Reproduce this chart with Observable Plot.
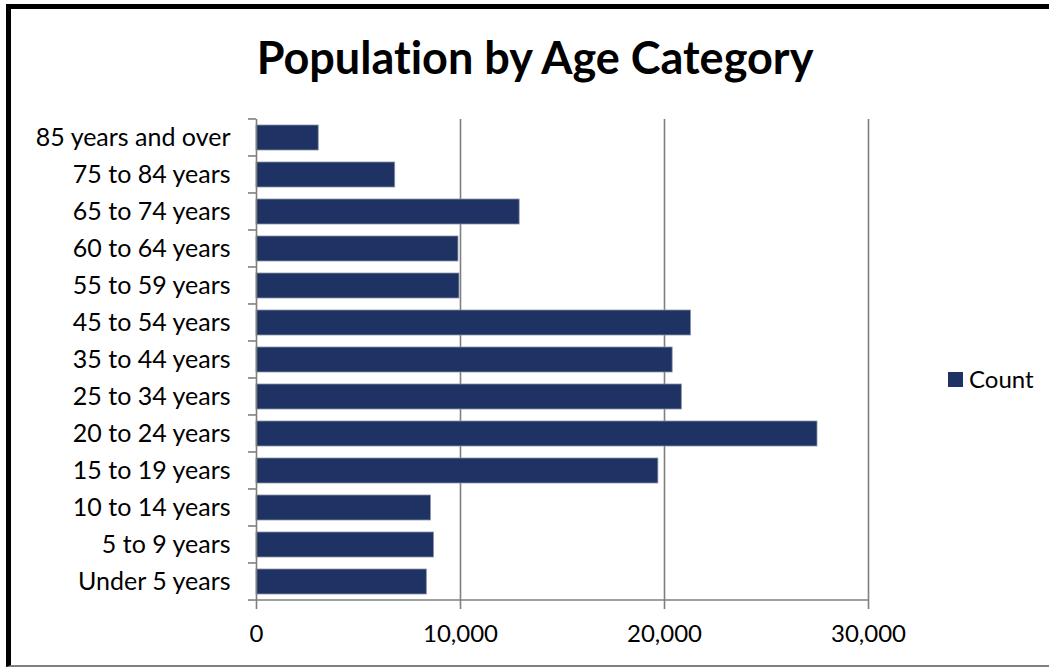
<!DOCTYPE html>
<html>
<head>
<meta charset="utf-8">
<script src="https://cdn.jsdelivr.net/npm/d3@7"></script>
<script src="https://cdn.jsdelivr.net/npm/@observablehq/plot@0.6"></script>
<style>
  html, body { margin: 0; padding: 0; background: #fff; overflow: hidden; }
  body { width: 1049px; height: 667px; position: relative; font-family: Lato, "Open Sans", sans-serif; }
  #frame { position: absolute; left: 6px; top: 4px; width: 1100px; height: 663px; box-sizing: border-box;
           border-left: 5px solid #000; border-top: 5px solid #000; border-bottom: 2px solid #7f7f7f; pointer-events: none; z-index: 2; }
  #title { position: absolute; left: 0; width: 1070px; top: 29px; text-align: center; font-weight: bold; font-size: 45px; line-height: 56px; color: #000; font-variant-ligatures: none; }
  #chart { position: absolute; left: 0; top: 100px; }
  #legend { position: absolute; left: 948px; top: 365px; font-size: 24px; line-height: 28px; color: #000; display: flex; align-items: center; }
  #legend .sw { width: 15px; height: 15px; background: #1e3363; margin-right: 6px; }
</style>
</head>
<body>
<div id="frame"></div>
<div id="title">Population by Age Category</div>
<div id="chart"></div>
<div id="legend"><div class="sw"></div><span>Count</span></div>
<script>
const categories = [
  "Under 5 years", "5 to 9 years", "10 to 14 years", "15 to 19 years", "20 to 24 years",
  "25 to 34 years", "35 to 44 years", "45 to 54 years", "55 to 59 years", "60 to 64 years",
  "65 to 74 years", "75 to 84 years", "85 years and over"
];
const counts = [8350, 8700, 8550, 19700, 27500, 20850, 20400, 21300, 9950, 9900, 12900, 6800, 3050];
const xTicks = [0, 10000, 20000, 30000];
const seriesName = "Count";

const data = categories.map((c, i) => ({category: c, count: counts[i]}));
const yDomain = categories.slice().reverse();

const W = 1049, H = 567;
const mTop = 19, mBottom = 66, mLeft = 256, mRight = 181;
const step = (H - mTop - mBottom) / categories.length;
const gray = "#7f7f7f";
const barColor = "#1e3363";

const chart = Plot.plot({
  width: W,
  height: H,
  marginTop: mTop,
  marginBottom: mBottom,
  marginLeft: mLeft,
  marginRight: mRight,
  style: {fontFamily: "Lato, 'Open Sans', sans-serif", fontSize: "25px", color: "#000", background: "transparent"},
  x: {type: "linear", domain: [0, 30000], ticks: xTicks, tickFormat: d3.format(","), label: null},
  y: {type: "band", domain: yDomain, paddingInner: 0.32, paddingOuter: 0.16, label: null},
  marks: [
    Plot.ruleX(xTicks.slice(1), {stroke: gray, strokeWidth: 1.6}),
    Plot.barX(data, {x: "count", y: "category", fill: barColor, stroke: "#8a93a8", strokeWidth: 0.8}),
    Plot.ruleX([0], {stroke: gray, strokeWidth: 1.6}),
    Plot.axisX({ticks: xTicks, tickFormat: d3.format(","), tickSize: 8, tickPadding: 15, stroke: gray, strokeWidth: 1.6, fontSize: 24, label: null}),
    Plot.axisY({tickSize: 0, tickPadding: 26, fontSize: 25, label: null})
  ]
});
document.getElementById("chart").appendChild(chart);

// frame lines and boundary ticks on the category axis (between bands), drawn from the scales
const yScale = chart.scale("y");
const xScale = chart.scale("x");
const svg = d3.select(chart);
const x0 = xScale.apply(0);
const x1 = xScale.apply(xTicks[xTicks.length - 1]);
const bounds = yDomain.map(c => yScale.apply(c) - (step - yScale.bandwidth) / 2);
const yBottom = yScale.apply(yDomain[yDomain.length - 1]) + yScale.bandwidth + (step - yScale.bandwidth) / 2;
bounds.push(yBottom);
const g = svg.append("g").attr("stroke", gray).attr("stroke-width", 1.6);
g.selectAll("line.b").data(bounds).join("line").attr("class", "b")
  .attr("x1", x0 - 8).attr("x2", x0).attr("y1", d => d).attr("y2", d => d);
g.append("line").attr("x1", x0).attr("x2", x1).attr("y1", yBottom).attr("y2", yBottom);
</script>
</body>
</html>
